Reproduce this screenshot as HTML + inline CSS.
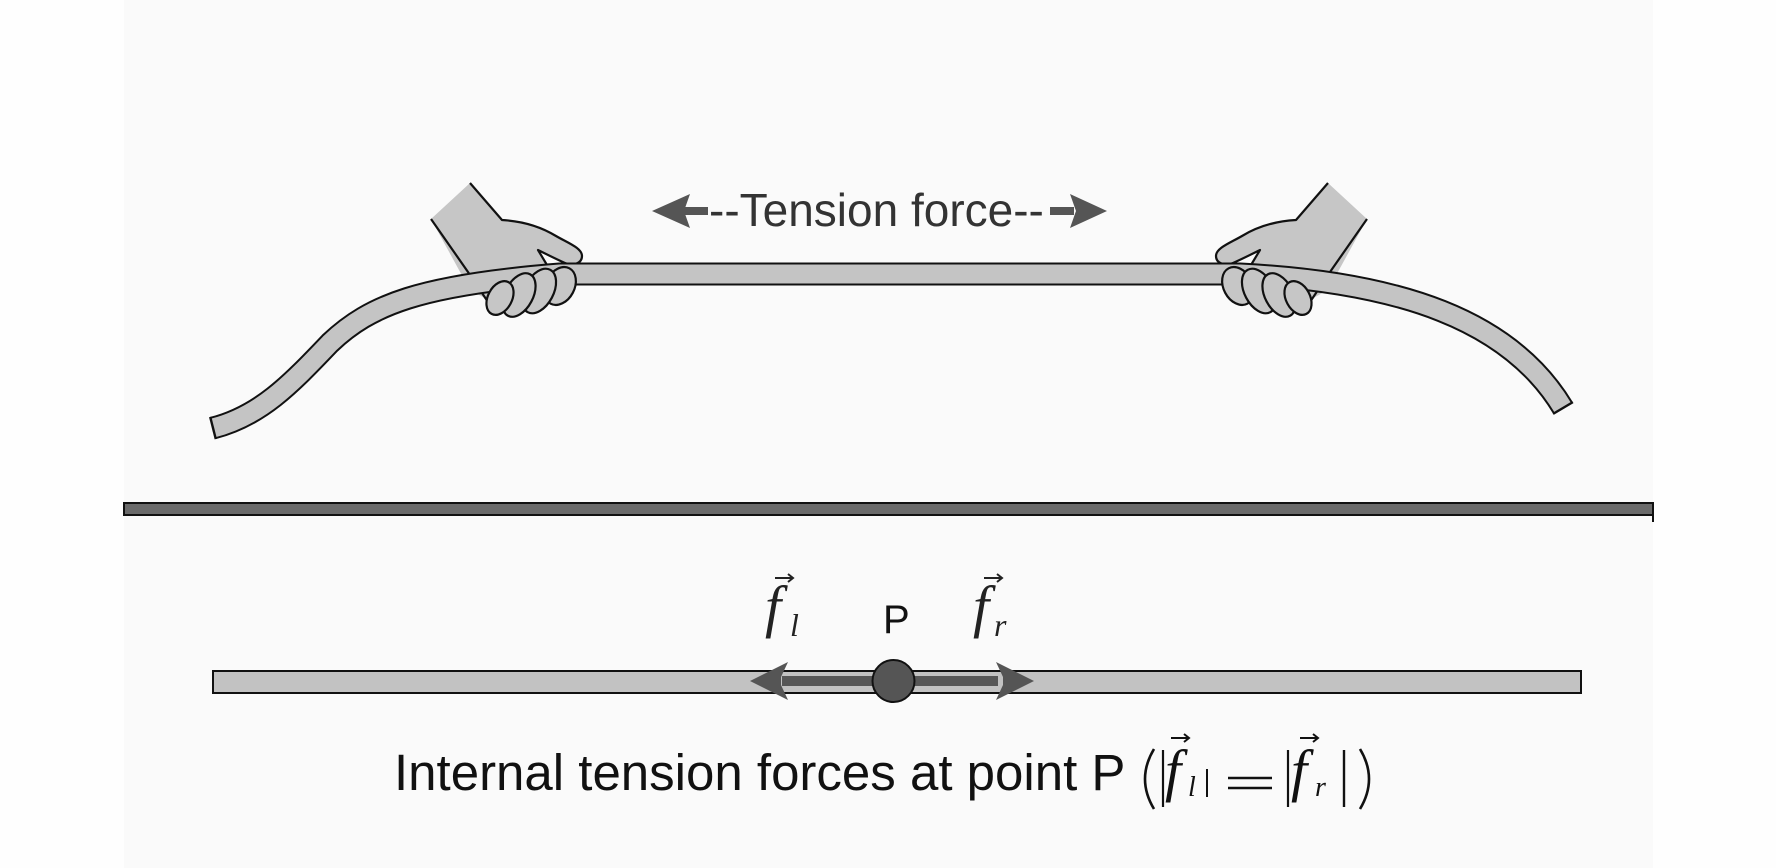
<!DOCTYPE html>
<html>
<head>
<meta charset="utf-8">
<style>
  html, body { margin:0; padding:0; background:#fefefe; }
  body { width:1776px; height:868px; overflow:hidden; }
  svg { display:block; }
  .sans { font-family: "Liberation Sans", Arial, sans-serif; }
  .serif { font-family: "Liberation Serif", "Times New Roman", serif; font-style: italic; }
</style>
</head>
<body>
<svg width="1776" height="868" viewBox="0 0 1776 868" xmlns="http://www.w3.org/2000/svg">
  <rect x="0" y="0" width="1776" height="868" fill="#fefefe"/>
  <rect x="124" y="0" width="1529" height="868" fill="#fafafa"/>

  <!-- Hands (back parts, drawn before rope) -->
  <g>
    <path d="M431,219 L470,183 L502,220 C520,221 538,225 556,236 C568,243 582,248 582,256 C582,264 572,266 565,263 C556,259 546,254 538,250 L550,270 L492,302 L470,290 Z" fill="#c6c6c6"/>
    <path d="M470,183 L502,220 C520,221 538,225 556,236 C568,243 582,248 582,256 C582,264 572,266 565,263 C556,259 546,254 538,250 L550,270" fill="none" stroke="#111" stroke-width="2.2" stroke-linejoin="round"/>
    <path d="M431,219 L468,272 L488,302" fill="none" stroke="#111" stroke-width="2.2"/>
  </g>
  <g transform="matrix(-1,0,0,1,1798,0)">
    <path d="M431,219 L470,183 L502,220 C520,221 538,225 556,236 C568,243 582,248 582,256 C582,264 572,266 565,263 C556,259 546,254 538,250 L550,270 L492,302 L470,290 Z" fill="#c6c6c6"/>
    <path d="M470,183 L502,220 C520,221 538,225 556,236 C568,243 582,248 582,256 C582,264 572,266 565,263 C556,259 546,254 538,250 L550,270" fill="none" stroke="#111" stroke-width="2.2" stroke-linejoin="round"/>
    <path d="M431,219 L468,272 L488,302" fill="none" stroke="#111" stroke-width="2.2"/>
  </g>

  <!-- Rope -->
  <path d="M213,428 C260,416 290,385 330,343 C370,305 420,285 560,274 L1240,274 C1400,282 1510,320 1563,408" fill="none" stroke="#111" stroke-width="23" stroke-linecap="butt"/>
  <path d="M213,428 C260,416 290,385 330,343 C370,305 420,285 560,274 L1240,274 C1400,282 1510,320 1563,408" fill="none" stroke="#c4c4c4" stroke-width="19" stroke-linecap="butt"/>
  <line x1="210.2" y1="416.9" x2="215.8" y2="439.1" stroke="#111" stroke-width="2.4"/>
  <line x1="1572.9" y1="402.1" x2="1553.1" y2="413.9" stroke="#111" stroke-width="2.4"/>

  <!-- Fingers -->
  <g fill="#c6c6c6" stroke="#111" stroke-width="2.2">
    <ellipse cx="560" cy="286" rx="14.5" ry="20" transform="rotate(28 560 286)"/>
    <ellipse cx="539" cy="291" rx="14.5" ry="24" transform="rotate(28 539 291)"/>
    <ellipse cx="519" cy="295" rx="14" ry="23.5" transform="rotate(28 519 295)"/>
    <ellipse cx="500" cy="298" rx="12" ry="18" transform="rotate(28 500 298)"/>
  </g>
  <g fill="#c6c6c6" stroke="#111" stroke-width="2.2" transform="matrix(-1,0,0,1,1798,0)">
    <ellipse cx="560" cy="286" rx="14.5" ry="20" transform="rotate(28 560 286)"/>
    <ellipse cx="539" cy="291" rx="14.5" ry="24" transform="rotate(28 539 291)"/>
    <ellipse cx="519" cy="295" rx="14" ry="23.5" transform="rotate(28 519 295)"/>
    <ellipse cx="500" cy="298" rx="12" ry="18" transform="rotate(28 500 298)"/>
  </g>

  <!-- Tension force label with arrows -->
  <g fill="#555">
    <polygon points="652,211 690,194 684,211 690,228"/>
    <rect x="684" y="207" width="24" height="8"/>
    <rect x="1050" y="207" width="24" height="8"/>
    <polygon points="1107,211 1070,194 1076,211 1070,228"/>
  </g>
  <text x="709" y="226" class="sans" font-size="46" fill="#333">--Tension force--</text>

  <!-- Separator bar -->
  <rect x="124" y="503" width="1529" height="12" fill="#6a6a6a" stroke="#111" stroke-width="2"/>
  <line x1="1653" y1="502" x2="1653" y2="522" stroke="#111" stroke-width="2"/>

  <!-- Lower rope -->
  <rect x="213" y="671" width="1368" height="22" fill="#c2c2c2" stroke="#111" stroke-width="2"/>

  <!-- Force arrows at P -->
  <rect x="782" y="676" width="216" height="10" fill="#575757"/>
  <polygon points="750,681 788,662 781,677 781,685 788,700" fill="#555"/>
  <polygon points="1034,681 996,662 1003,677 1003,685 996,700" fill="#555"/>
  <circle cx="893.5" cy="681" r="21" fill="#555" stroke="#111" stroke-width="2"/>

  <!-- Labels f_l, P, f_r -->
  <text x="765" y="626" class="serif" font-size="58" fill="#222">f</text>
  <text x="790" y="636" class="serif" font-size="32" fill="#222">l</text>
  <path d="M775,578 L793,578 M788,574 L793,578 L788,582" fill="none" stroke="#222" stroke-width="2"/>
  <text x="883" y="633" class="sans" font-size="40" fill="#111">P</text>
  <text x="973" y="626" class="serif" font-size="58" fill="#222">f</text>
  <text x="994" y="636" class="serif" font-size="32" fill="#222">r</text>
  <path d="M984,578 L1002,578 M997,574 L1002,578 L997,582" fill="none" stroke="#222" stroke-width="2"/>

  <!-- Caption -->
  <text x="394" y="790" class="sans" font-size="51" fill="#111">Internal tension forces at point P</text>
  <path d="M1154,749 Q1136,779 1154,809" fill="none" stroke="#111" stroke-width="2.6"/>
  <line x1="1163" y1="750" x2="1163" y2="807" stroke="#111" stroke-width="2.2"/>
  <text x="1165" y="790" class="serif" font-size="58" fill="#111">f</text>
  <text x="1188" y="796" class="serif" font-size="28" fill="#111">l</text>
  <path d="M1171,738 L1189,738 M1184,734 L1189,738 L1184,742" fill="none" stroke="#111" stroke-width="2"/>
  <line x1="1207" y1="769" x2="1207" y2="797" stroke="#111" stroke-width="2"/>
  <line x1="1228" y1="778" x2="1272" y2="778" stroke="#111" stroke-width="2.5"/>
  <line x1="1228" y1="788" x2="1272" y2="788" stroke="#111" stroke-width="2.5"/>
  <line x1="1288" y1="750" x2="1288" y2="807" stroke="#111" stroke-width="2.2"/>
  <text x="1291" y="790" class="serif" font-size="58" fill="#111">f</text>
  <text x="1315" y="796" class="serif" font-size="28" fill="#111">r</text>
  <path d="M1300,738 L1318,738 M1313,734 L1318,738 L1313,742" fill="none" stroke="#111" stroke-width="2"/>
  <line x1="1344" y1="750" x2="1344" y2="807" stroke="#111" stroke-width="2.4"/>
  <path d="M1360,749 Q1378,779 1360,809" fill="none" stroke="#111" stroke-width="2.6"/>
</svg>
</body>
</html>
